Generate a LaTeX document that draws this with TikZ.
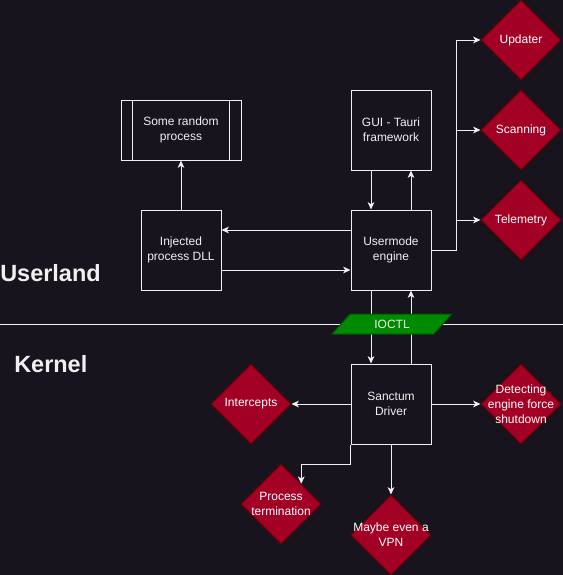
\documentclass[tikz,border=0pt]{standalone}
\usepackage{fontspec}
\setmainfont{Liberation Sans}
\usepackage{tikz}
\usetikzlibrary{shapes.geometric, arrows.meta, calc}
\definecolor{colorBg}{RGB}{24, 20, 29}
\definecolor{colorLine}{RGB}{240, 240, 240}
\definecolor{colorDec}{RGB}{162, 0, 37}
\definecolor{colorDecLine}{RGB}{111, 0, 0}
\definecolor{colorIo}{RGB}{0, 138, 0}
\definecolor{colorIoLine}{RGB}{0, 87, 0}
\tikzstyle{process} = [rectangle, minimum width=60pt, minimum height=60pt, inner sep=0pt, align=center, text=colorLine, draw=colorLine, line width=0.75pt]
\tikzstyle{subprocess} = [process, minimum width=90pt, minimum height=45pt]
\tikzstyle{decision} = [diamond, minimum width=60pt, minimum height=60pt, inner sep=0pt, draw=colorDecLine, fill=colorDec, line width=0.75pt]
\tikzstyle{dlabel} = [align=center, text=white, inner sep=0pt]
\tikzstyle{io} = [trapezium, trapezium left angle=48, trapezium right angle=132, trapezium stretches=true, minimum width=90pt, minimum height=15pt, inner sep=0pt, text=colorLine, draw=colorIoLine, fill=colorIo, line width=0.75pt]
\tikzstyle{layer} = [anchor=base west, inner sep=0pt, text=colorLine, font=\fontsize{17.6}{21}\selectfont\bfseries]
\tikzstyle{arrow} = [draw=colorLine, line width=0.75pt, -{Stealth[length=5.5pt, width=5pt, inset=1.5pt]}]

\begin{document}
\begin{tikzpicture}[x=0.75pt, y=-0.75pt, every node/.style={font=\fontsize{9}{11.25}\selectfont}]

		\fill[colorBg] (0,0) rectangle (563,575);
		\useasboundingbox (0,0) rectangle (563,575);

		% userland / kernel border
		\coordinate (sepL) at (0,324);
		\coordinate (sepR) at (563,324);
		\draw[colorLine, line width=0.75pt] (sepL) -- (sepR);

		\node (lUser)[layer] at (0,281) {Userland};
		\node (lKernel)[layer] at (14,372) {Kernel};

		% userland
		\node (pRandom)[subprocess] at (181,130) {Some random\\process};
		\node (pGui)[process] at (391,130) {GUI - Tauri\\framework};
		\node (pInjected)[process] at (181,250) {Injected\\process DLL};
		\node (pUsermode)[process] at (391,250) {Usermode\\engine};

		\draw[colorLine, line width=0.75pt] ($(pRandom.north west)+(12,0)$) -- ($(pRandom.south west)+(12,0)$);
		\draw[colorLine, line width=0.75pt] ($(pRandom.north east)+(-12,0)$) -- ($(pRandom.south east)+(-12,0)$);

		\node (dUpdater)[decision, label={[dlabel]center:Updater}] at (521,40) {};
		\node (dScanning)[decision, label={[dlabel]center:Scanning}] at (521,130) {};
		\node (dTelemetry)[decision, label={[dlabel]center:Telemetry}] at (521,220) {};

		% kernel
		\node (pSanctum)[process] at (391,404) {Sanctum\\Driver};
		\node (dIntercepts)[decision, label={[dlabel]center:Intercepts}] at (251,404) {};
		\node (dDetect)[decision, label={[dlabel]center:Detecting\\engine force\\shutdown}] at (521,404) {};
		\node (dProcTerm)[decision, label={[dlabel]center:Process\\termination}] at (281,504) {};
		\node (dVpn)[decision, label={[dlabel]center:Maybe even a\\VPN}] at (391,535) {};

		% 拐弯用
		\coordinate (fork) at (456,250);

		% lines and arrows
		\draw[arrow](pInjected) -- (pRandom);
		\draw[arrow]([yshift=15pt]pUsermode.west) -- ([yshift=15pt]pInjected.east);
		\draw[arrow]([yshift=-15pt]pInjected.east) -- ([yshift=-15pt]pUsermode.west);
		\draw[arrow]([xshift=-15pt]pGui.south) -- ([xshift=-15pt]pUsermode.north);
		\draw[arrow]([xshift=15pt]pUsermode.north) -- ([xshift=15pt]pGui.south);

		\draw[arrow](pUsermode.east) -- (fork) |- (dUpdater.west);
		\draw[arrow](pUsermode.east) -- (fork) |- (dScanning.west);
		\draw[arrow](pUsermode.east) -- (fork) |- (dTelemetry.west);

		\draw[arrow]([xshift=-15pt]pUsermode.south) -- ([xshift=-15pt]pSanctum.north);
		\draw[arrow]([xshift=15pt]pSanctum.north) -- ([xshift=15pt]pUsermode.south);

		\draw[arrow](pSanctum) -- (dIntercepts);
		\draw[arrow](pSanctum) -- (dDetect);
		\draw[arrow](pSanctum.south west) -- ++(0,20) -| (dProcTerm.north east);
		\draw[arrow](pSanctum) -- (dVpn);

		% IOCTL on top
		\node (ioctl)[io] at (392,324) {IOCTL};

	\end{tikzpicture}
\end{document}
